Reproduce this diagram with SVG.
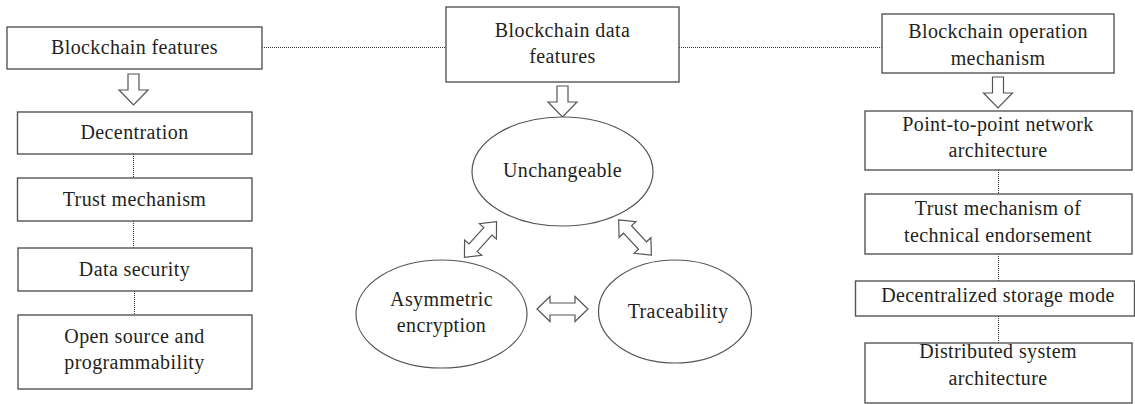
<svg xmlns="http://www.w3.org/2000/svg" width="1135" height="404" viewBox="0 0 1135 404">
<style>
.box{fill:#fff;stroke:#555;stroke-width:1.4}
.ell{fill:#fff;stroke:#555;stroke-width:1.2}
text{font-family:'Liberation Serif','DejaVu Serif',serif;font-size:20px;letter-spacing:0.4px;fill:#231f20;text-anchor:middle}
.dot{stroke:#333;stroke-width:1;stroke-dasharray:1 1;fill:none}
.arr{fill:#fff;stroke:#555;stroke-width:1.2;stroke-linejoin:miter}
</style>
<defs>
<path id="dbl" d="M-25.5,0 L-12.5,-12.5 L-12.5,-6 L12.5,-6 L12.5,-12.5 L25.5,0 L12.5,12.5 L12.5,6 L-12.5,6 L-12.5,12.5 Z"/>
<path id="dblD" d="M-24,0 L-11,-11.5 L-11,-5.5 L11,-5.5 L11,-11.5 L24,0 L11,11.5 L11,5.5 L-11,5.5 L-11,11.5 Z"/>
<path id="down" d="M-5.5,0 L5.5,0 L5.5,16 L14.5,16 L0,31 L-14.5,16 L-5.5,16 Z"/>
</defs>
<g id="connectors">
<line class="dot" x1="262" y1="47.5" x2="446" y2="47.5"/>
<line class="dot" x1="679" y1="47.5" x2="882" y2="47.5"/>
<line class="dot" x1="133.5" y1="154" x2="133.5" y2="178"/>
<line class="dot" x1="133.5" y1="221" x2="133.5" y2="248"/>
<line class="dot" x1="134.5" y1="291" x2="134.5" y2="315"/>
<line class="dot" x1="998.5" y1="170" x2="998.5" y2="194"/>
<line class="dot" x1="998.5" y1="254" x2="998.5" y2="281"/>
<line class="dot" x1="998.5" y1="316" x2="998.5" y2="343"/>
<use href="#down" class="arr" transform="translate(133.5,74)"/>
<use href="#down" class="arr" transform="translate(562.5,86)"/>
<use href="#down" class="arr" transform="translate(998,77)"/>
<use href="#dbl" class="arr" transform="translate(562.5,309)"/>
<use href="#dblD" class="arr" transform="translate(480.5,239.5) rotate(-48)"/>
<use href="#dblD" class="arr" transform="translate(635,237.5) rotate(47)"/>
</g>
<g id="n-blockchain-features"><rect class="box" x="7" y="27" width="255" height="42"/><text x="134.5" y="54">Blockchain features</text></g>
<g id="n-decentration"><rect class="box" x="17.5" y="112" width="234.5" height="42"/><text x="134.5" y="139">Decentration</text></g>
<g id="n-trust"><rect class="box" x="17.5" y="178" width="234.5" height="43"/><text x="134.5" y="205.5">Trust mechanism</text></g>
<g id="n-data-security"><rect class="box" x="18" y="248" width="234" height="43"/><text x="134.5" y="275.5">Data security</text></g>
<g id="n-open-source"><rect class="box" x="18" y="315" width="234" height="74"/><text x="134.5" y="343">Open source and</text><text x="134.5" y="369">programmability</text></g>
<g id="n-blockchain-data"><rect class="box" x="446" y="7" width="233" height="75"/><text x="562.5" y="37">Blockchain data</text><text x="562.5" y="63">features</text></g>
<g id="n-unchangeable"><ellipse class="ell" cx="562.5" cy="171.5" rx="90.5" ry="54.5"/><text x="562.5" y="177">Unchangeable</text></g>
<g id="n-asymmetric"><ellipse class="ell" cx="441.5" cy="314" rx="85.5" ry="54"/><text x="441.5" y="306">Asymmetric</text><text x="441.5" y="332">encryption</text></g>
<g id="n-traceability"><ellipse class="ell" cx="675" cy="311.5" rx="76.5" ry="51.5"/><text x="678" y="318">Traceability</text></g>
<g id="n-operation"><rect class="box" x="882" y="14" width="232" height="59"/><text x="998" y="38">Blockchain operation</text><text x="998" y="65">mechanism</text></g>
<g id="n-p2p"><rect class="box" x="865" y="111" width="267" height="59"/><text x="998" y="131">Point-to-point network</text><text x="998" y="157">architecture</text></g>
<g id="n-trust-tech"><rect class="box" x="865" y="194" width="267" height="60"/><text x="998" y="215">Trust mechanism of</text><text x="998" y="242">technical endorsement</text></g>
<g id="n-decentralized"><rect class="box" x="855.5" y="281" width="279" height="35"/><text x="998" y="302">Decentralized storage mode</text></g>
<g id="n-distributed"><rect class="box" x="865" y="343" width="267" height="60"/><text x="998" y="358">Distributed system</text><text x="998" y="385">architecture</text></g>
</svg>
